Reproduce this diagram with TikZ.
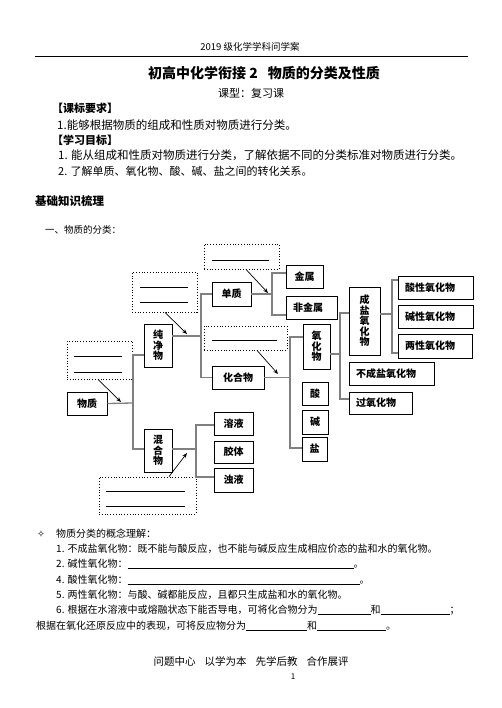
\documentclass[tikz,border=0pt]{standalone}
\usepackage{fontspec}
\setmainfont{Noto Sans CJK SC}
\newfontfamily\dejavu{DejaVu Sans}
\usetikzlibrary{arrows.meta}
\definecolor{cg}{RGB}{128,128,128}
\tikzset{
  box/.style={draw, line width=0.9pt, inner sep=0pt, align=center, font=\bfseries\fontsize{10}{10.5}\selectfont},
  lbox/.style={draw, line width=0.9pt, inner ysep=0pt, inner xsep=7pt, align=left, font=\bfseries\fontsize{10}{10.5}\selectfont},
  dbox/.style={draw, dotted, line width=0.8pt, inner sep=0pt},
  conn/.style={draw=cg, line width=1.3pt},
  arr/.style={-{Stealth[length=5pt,width=4pt]}, line width=0.7pt},
  blank/.style={line width=0.7pt},
  txt/.style={anchor=west, inner sep=0pt, font=\fontsize{10}{12}\selectfont},
}
\begin{document}
\begin{tikzpicture}[x=1pt,y=-1pt]
\fill[white] (0,0) rectangle (502,708);
\useasboundingbox (0,0) rectangle (502,708);

% header
\node[inner sep=0pt, font=\fontsize{9.5}{11}\selectfont] (hdr) at (250,47) {2019 级化学学科问学案};
\draw[line width=0.8pt] (35,56) -- (468,56);
\node[inner sep=0pt, font=\bfseries\fontsize{14}{16}\selectfont] (title) at (264,73) {初高中化学衔接 2\hspace{10pt}物质的分类及性质};
\node[inner sep=0pt, font=\fontsize{11}{13}\selectfont] (ktype) at (251,93) {课型：复习课};
\node[txt, font=\bfseries\fontsize{11}{13}\selectfont] (h1) at (52,108) {【课标要求】};
\node[txt, font=\fontsize{11.5}{13}\selectfont] (l1) at (57,125) {1.能够根据物质的组成和性质对物质进行分类。};
\node[txt, font=\bfseries\fontsize{11}{13}\selectfont] (h2) at (52,140) {【学习目标】};
\node[txt, font=\fontsize{11.5}{13}\selectfont] (l2) at (58,155) {1. 能从组成和性质对物质进行分类，了解依据不同的分类标准对物质进行分类。};
\node[txt, font=\fontsize{11}{13}\selectfont] (l3) at (58,171) {2. 了解单质、氧化物、酸、碱、盐之间的转化关系。};
\node[txt, font=\bfseries\fontsize{11.5}{13}\selectfont] (h3) at (35,201) {基础知识梳理};
\node[txt, font=\fontsize{9.5}{11}\selectfont] (h4) at (45,230) {一、物质的分类：};

% dotted boxes
\node[dbox, minimum width=75pt, minimum height=25pt] (d1) at (241.5,256.5) {};
\node[dbox, minimum width=65pt, minimum height=40pt] (d2) at (164.5,292) {};
\node[dbox, minimum width=83pt, minimum height=24pt] (d3) at (245.5,338) {};
\node[dbox, minimum width=65pt, minimum height=38pt] (d4) at (99.5,360) {};
\node[dbox, minimum width=97pt, minimum height=37pt] (d5) at (147.5,495.5) {};
\draw[blank] (212,260) -- (269,260);
\draw[blank] (140,287) -- (188,287);
\draw[blank] (140,302) -- (188,302);
\draw[blank] (212,340) -- (277,340);
\draw[blank] (74,356) -- (122,356);
\draw[blank] (74,372) -- (122,372);
\draw[blank] (106,491) -- (185,491);
\draw[blank] (106,506) -- (185,506);

% boxes
\node[box, minimum width=40pt, minimum height=23pt] (wz) at (87,403.5) {物质};
\node[box, minimum width=28pt, minimum height=43pt] (cjw) at (158,345.5) {纯\\净\\物};
\node[box, minimum width=28pt, minimum height=43pt] (hh) at (158,450.5) {混\\合\\物};
\node[box, minimum width=39pt, minimum height=24pt] (dz) at (231.5,294) {单质};
\node[box, minimum width=52pt, minimum height=23pt] (hhw) at (238,377.5) {化合物};
\node[box, minimum width=37pt, minimum height=23pt] (js) at (304.5,276.5) {金属};
\node[lbox, text width=37pt, minimum height=23pt] (fjs) at (311.5,307.5) {非金属};
\node[box, minimum width=27pt, minimum height=45pt] (yhw) at (316.5,346.5) {氧\\化\\物};
\node[box, minimum width=26pt, minimum height=23pt] (suan) at (315,393.5) {酸};
\node[box, minimum width=26pt, minimum height=24pt] (jian) at (315,422) {碱};
\node[box, minimum width=25pt, minimum height=24pt] (yan) at (314.5,449) {盐};
\node[box, minimum width=31pt, minimum height=68pt] (cy) at (364.5,321) {成\\盐\\氧\\化\\物};
\node[lbox, text width=71pt, minimum height=23pt] (bcy) at (391.5,373.5) {不成盐氧化物};
\node[lbox, text width=49pt, minimum height=22pt] (gy) at (380.5,403) {过氧化物};
\node[lbox, text width=61pt, minimum height=23pt] (sx) at (435.5,287.5) {酸性氧化物};
\node[lbox, text width=61pt, minimum height=23pt] (jx) at (435.5,316.5) {碱性氧化物};
\node[lbox, text width=60pt, minimum height=24pt] (lx) at (435,346) {两性氧化物};
\node[box, minimum width=39pt, minimum height=23pt] (ry) at (233.5,423.5) {溶液};
\node[box, minimum width=39pt, minimum height=22pt] (jt) at (233.5,452) {胶体};
\node[box, minimum width=39pt, minimum height=24pt] (zy) at (233.5,480) {浊液};

% connectors (brackets)
\draw[conn] (wz.east) -- (133,403);
\draw[conn] (cjw.west |- 0,355) -| (133,403) |- (hh.west |- 0,449);
\draw[conn] (cjw.east |- 0,336) -- (201,336);
\draw[conn] (dz.west) -| (201,336) |- (hhw.west);
\draw[conn] (dz.east) -- (272,294);
\draw[conn] (js.west |- 0,273) -| (272,294) |- (fjs.west |- 0,315);
\draw[conn] (hhw.east) -- (290,377.5);
\draw[conn] (yhw.west |- 0,337) -| (290,377.5) |- (yan.west |- 0,448);
\draw[conn] (yhw.east |- 0,354) -- (340,354);
\draw[conn] (cy.west |- 0,313) -| (340,354) |- (gy.west |- 0,399);
\draw[conn] (cy.east |- 0,314) -- (392,314);
\draw[conn] (sx.west |- 0,280) -| (392,314) |- (lx.west |- 0,353);
\draw[conn] (hh.east |- 0,449) -- (196,449);
\draw[conn] (ry.west |- 0,425) -| (196,449) |- (zy.west |- 0,477);

% arrows
\coordinate (e1) at (268,293);
\coordinate (e2) at (187,334);
\coordinate (e3) at (278,374);
\coordinate (e4) at (121,402);
\coordinate (e5) at (187,453);
\draw[arr] (246,0 |- d1.south) -- (e1);
\draw[arr] (165,0 |- d2.south) -- (e2);
\draw[arr] (257,0 |- d3.south) -- (e3);
\draw[arr] (98,0 |- d4.south) -- (e4);
\draw[arr] (169,0 |- d5.north) -- (e5);

% lower text
\node[txt, font=\dejavu\fontsize{9.5}{11}\selectfont] (star) at (37,534) {✧};
\node[txt] (t0) at (56,534) {物质分类的概念理解：};
\node[txt] (t1) at (56,549) {1. 不成盐氧化物：既不能与酸反应，也不能与碱反应生成相应价态的盐和水的氧化物。};
\node[txt] (t2) at (56,564) {2. 碱性氧化物：\rule[-2pt]{226pt}{0.9pt}。};
\node[txt] (t4) at (56,580) {4. 酸性氧化物：\rule[-2pt]{232pt}{0.9pt}。};
\node[txt] (t5) at (56,595) {5. 两性氧化物：与酸、碱都能反应，且都只生成盐和水的氧化物。};
\node[txt] (t6) at (56,610) {6. 根据在水溶液中或熔融状态下能否导电，可将化合物分为\rule[-2pt]{53pt}{0.9pt}和\rule[-2pt]{69pt}{0.9pt}；};
\node[txt] (t7) at (36,626) {根据在氧化还原反应中的表现，可将反应物分为\rule[-2pt]{61pt}{0.9pt}和\rule[-2pt]{69pt}{0.9pt}。};

% footer
\node[inner sep=0pt, font=\fontsize{10.5}{12}\selectfont] (foot) at (251,661) {问题中心\hspace{9pt}以学为本\hspace{9pt}先学后教\hspace{9pt}合作展评};
\node[inner sep=0pt, font=\fontsize{8}{10}\selectfont] (pg) at (293,677) {1};
\end{tikzpicture}
\end{document}
